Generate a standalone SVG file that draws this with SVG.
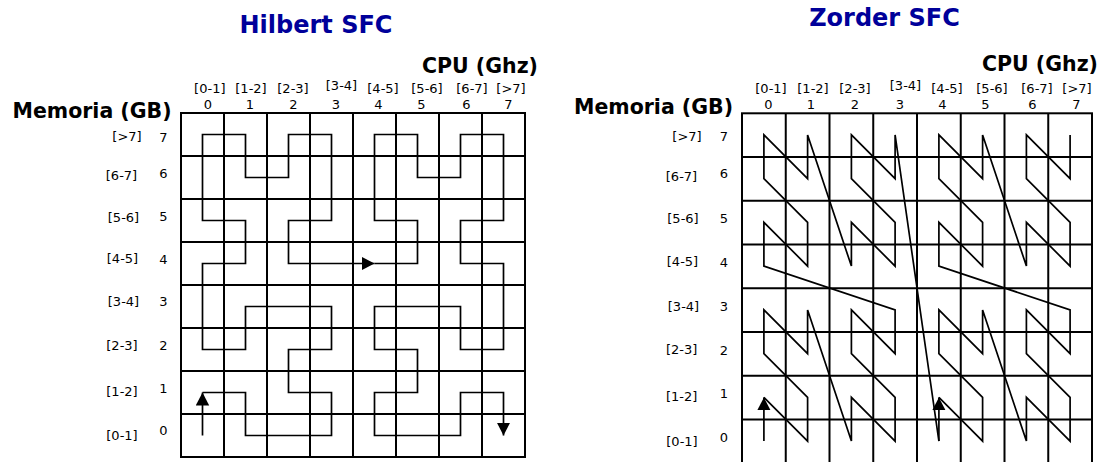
<svg xmlns="http://www.w3.org/2000/svg" width="1111" height="462" viewBox="0 0 1111 462">
<style>
.title{font-family:"DejaVu Sans","Verdana",sans-serif;font-weight:bold;font-size:24px;fill:#00009a;text-anchor:middle}
.axis{font-family:"DejaVu Sans","Verdana",sans-serif;font-weight:bold;font-size:20.5px;fill:#000}
.lbl{font-family:"DejaVu Sans","Verdana",sans-serif;font-size:13px;fill:#000;text-anchor:middle}
.grid{fill:none;stroke:#000;stroke-width:2}
.curve{fill:none;stroke:#000;stroke-width:1.7;stroke-linejoin:miter}
</style>
<defs>
<marker id="ah" markerUnits="userSpaceOnUse" markerWidth="14" markerHeight="14" refX="13" refY="6.7" orient="auto">
<path d="M0,0 L13,6.7 L0,13.4 Z" fill="#000"/>
</marker>
</defs>
<rect width="1111" height="462" fill="#fff"/>

<g id="hilbert">
<text class="title" x="316" y="33">Hilbert SFC</text>
<text class="axis" x="422" y="73">CPU (Ghz)</text>
<text class="axis" x="12.5" y="118">Memoria (GB)</text>
<g id="hilbert-cols">
<text class="lbl" x="209.8" y="92.5">[0-1]</text>
<text class="lbl" x="251" y="92.5">[1-2]</text>
<text class="lbl" x="293" y="92.5">[2-3]</text>
<text class="lbl" x="341.5" y="89.5">[3-4]</text>
<text class="lbl" x="383" y="92.5">[4-5]</text>
<text class="lbl" x="427" y="92.5">[5-6]</text>
<text class="lbl" x="472" y="92.5">[6-7]</text>
<text class="lbl" x="511" y="92.5">[&gt;7]</text>
<text class="lbl" x="208" y="108.5">0</text>
<text class="lbl" x="250" y="108.5">1</text>
<text class="lbl" x="293.5" y="108.5">2</text>
<text class="lbl" x="336" y="108.5">3</text>
<text class="lbl" x="378.5" y="108.5">4</text>
<text class="lbl" x="421.5" y="108.5">5</text>
<text class="lbl" x="466.5" y="108.5">6</text>
<text class="lbl" x="508.5" y="108.5">7</text>
</g>
<g id="hilbert-rows">
<text class="lbl" x="127" y="141">[&gt;7]</text>
<text class="lbl" x="121.5" y="179.5">[6-7]</text>
<text class="lbl" x="123.5" y="221.5">[5-6]</text>
<text class="lbl" x="122.5" y="262.5">[4-5]</text>
<text class="lbl" x="123.5" y="306">[3-4]</text>
<text class="lbl" x="122" y="349.5">[2-3]</text>
<text class="lbl" x="122" y="396">[1-2]</text>
<text class="lbl" x="122" y="439.5">[0-1]</text>
<text class="lbl" x="163.5" y="142">7</text>
<text class="lbl" x="163.5" y="177.5">6</text>
<text class="lbl" x="163.5" y="221">5</text>
<text class="lbl" x="163.5" y="263.5">4</text>
<text class="lbl" x="163.5" y="306">3</text>
<text class="lbl" x="163.5" y="349.5">2</text>
<text class="lbl" x="163.5" y="392.5">1</text>
<text class="lbl" x="163.5" y="435">0</text>
</g>
<g id="hilbert-grid">
<rect class="grid" x="181" y="113" width="344" height="344"/>
<path class="grid" d="M224,113V457M267,113V457M310,113V457M353,113V457M396,113V457M439,113V457M482,113V457M181,156H525M181,199H525M181,242H525M181,285H525M181,328H525M181,371H525M181,414H525"/>
</g>
</g>

<g id="zorder">
<text class="title" x="884.5" y="26">Zorder SFC</text>
<text class="axis" x="982" y="71">CPU (Ghz)</text>
<text class="axis" x="574" y="113.7">Memoria (GB)</text>
<g id="zorder-cols">
<text class="lbl" x="771" y="92.5">[0-1]</text>
<text class="lbl" x="813" y="92.5">[1-2]</text>
<text class="lbl" x="855" y="92.5">[2-3]</text>
<text class="lbl" x="905.5" y="89.5">[3-4]</text>
<text class="lbl" x="947" y="92.5">[4-5]</text>
<text class="lbl" x="992" y="92.5">[5-6]</text>
<text class="lbl" x="1037" y="92.5">[6-7]</text>
<text class="lbl" x="1077" y="92.5">[&gt;7]</text>
<text class="lbl" x="768.5" y="109">0</text>
<text class="lbl" x="811" y="109">1</text>
<text class="lbl" x="855" y="109">2</text>
<text class="lbl" x="900" y="109">3</text>
<text class="lbl" x="942.5" y="109">4</text>
<text class="lbl" x="985.5" y="109">5</text>
<text class="lbl" x="1032.5" y="109">6</text>
<text class="lbl" x="1076.5" y="109">7</text>
</g>
<g id="zorder-rows">
<text class="lbl" x="687" y="140.5">[&gt;7]</text>
<text class="lbl" x="681.5" y="180.5">[6-7]</text>
<text class="lbl" x="683" y="223">[5-6]</text>
<text class="lbl" x="682.5" y="266">[4-5]</text>
<text class="lbl" x="683.5" y="310.5">[3-4]</text>
<text class="lbl" x="681.7" y="354">[2-3]</text>
<text class="lbl" x="681.7" y="401">[1-2]</text>
<text class="lbl" x="682" y="446">[0-1]</text>
<text class="lbl" x="724" y="140.5">7</text>
<text class="lbl" x="724" y="178">6</text>
<text class="lbl" x="724" y="223">5</text>
<text class="lbl" x="724" y="267">4</text>
<text class="lbl" x="724" y="311">3</text>
<text class="lbl" x="724" y="354.5">2</text>
<text class="lbl" x="724" y="398">1</text>
<text class="lbl" x="724" y="442">0</text>
</g>
<g id="zorder-grid">
<rect class="grid" x="742" y="113.3" width="350" height="350"/>
<path class="grid" d="M785.75,113.3V463M829.5,113.3V463M873.25,113.3V463M917,113.3V463M960.75,113.3V463M1004.5,113.3V463M1048.25,113.3V463M742,157.05H1092M742,200.8H1092M742,244.55H1092M742,288.3H1092M742,332.05H1092M742,375.8H1092M742,419.55H1092"/>
</g>
</g>

<g id="connectors">
<g id="hilbert-curve">
<path class="curve" d="M202.5,435.5V392.5" marker-end="url(#ah)"/>
<polyline class="curve" marker-end="url(#ah)" points="202.5,392.5 245.5,392.5 245.5,435.5 331.5,435.5 331.5,392.5 288.5,392.5 288.5,349.5 331.5,349.5 331.5,306.5 245.5,306.5 245.5,349.5 202.5,349.5 202.5,263.5 245.5,263.5 245.5,220.5 202.5,220.5 202.5,134.5 245.5,134.5 245.5,177.5 288.5,177.5 288.5,134.5 331.5,134.5 331.5,220.5 288.5,220.5 288.5,263.5 374.5,263.5"/>
<polyline class="curve" marker-end="url(#ah)" points="374.5,263.5 417.5,263.5 417.5,220.5 374.5,220.5 374.5,134.5 417.5,134.5 417.5,177.5 460.5,177.5 460.5,134.5 503.5,134.5 503.5,220.5 460.5,220.5 460.5,263.5 503.5,263.5 503.5,349.5 460.5,349.5 460.5,306.5 374.5,306.5 374.5,349.5 417.5,349.5 417.5,392.5 374.5,392.5 374.5,435.5 460.5,435.5 460.5,392.5 503.5,392.5 503.5,435.5"/>
</g>
<g id="zorder-curve">
<path class="curve" d="M763.9,441.1V397.4" marker-end="url(#ah)"/>
<polyline class="curve" points="763.9,397.4 807.6,441.1 807.6,397.4 763.9,353.6 763.9,309.9 807.6,353.6 807.6,309.9 851.4,441.1 851.4,397.4 895.1,441.1 895.1,397.4 851.4,353.6 851.4,309.9 895.1,353.6 895.1,309.9 763.9,266.1 763.9,222.4 807.6,266.1 807.6,222.4 763.9,178.6 763.9,134.9 807.6,178.6 807.6,134.9 851.4,266.1 851.4,222.4 895.1,266.1 895.1,222.4 851.4,178.6 851.4,134.9 895.1,178.6 895.1,134.9 938.9,441.1"/>
<path class="curve" d="M938.9,441.1V397.4" marker-end="url(#ah)"/>
<polyline class="curve" points="938.9,397.4 982.6,441.1 982.6,397.4 938.9,353.6 938.9,309.9 982.6,353.6 982.6,309.9 1026.4,441.1 1026.4,397.4 1070.1,441.1 1070.1,397.4 1026.4,353.6 1026.4,309.9 1070.1,353.6 1070.1,309.9 938.9,266.1 938.9,222.4 982.6,266.1 982.6,222.4 938.9,178.6 938.9,134.9 982.6,178.6 982.6,134.9 1026.4,266.1 1026.4,222.4 1070.1,266.1 1070.1,222.4 1026.4,178.6 1026.4,134.9 1070.1,178.6 1070.1,134.9"/>
</g>
</g>
</svg>
